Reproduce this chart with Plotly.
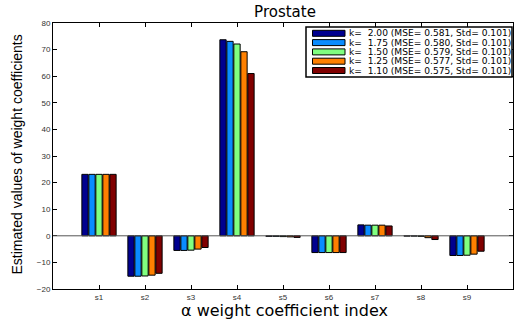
import plotly.graph_objects as go

categories = ["s1", "s2", "s3", "s4", "s5", "s6", "s7", "s8", "s9"]
k_values = ["2.00", "1.75", "1.50", "1.25", "1.10"]
mse_values = ["0.581", "0.580", "0.579", "0.577", "0.575"]
std_values = ["0.101", "0.101", "0.101", "0.101", "0.101"]

vals_k200 = [23.1, -15.2, -5.5, 73.7, -0.2, -6.3, 4.1, -0.1, -7.4]
vals_k175 = [23.1, -15.2, -5.5, 73.1, -0.2, -6.3, 4.0, -0.1, -7.4]
vals_k150 = [23.1, -15.1, -5.4, 72.1, -0.3, -6.3, 4.0, -0.2, -7.3]
vals_k125 = [23.1, -14.8, -5.0, 69.2, -0.4, -6.3, 4.0, -0.7, -6.9]
vals_k110 = [23.1, -14.1, -4.4, 61.0, -0.6, -6.3, 3.7, -1.4, -5.8]
series = [vals_k200, vals_k175, vals_k150, vals_k125, vals_k110]

colors = ["#00008F", "#0A8CFF", "#80FF80", "#FF8000", "#800000"]

y_ticks = [-20, -10, 0, 10, 20, 30, 40, 50, 60, 70, 80]
y_ticklabels = ["\u221220", "\u221210", "0", "10", "20", "30", "40", "50", "60", "70", "80"]

font_family = "Liberation Sans, Arial, Helvetica, sans-serif"
wide_font = "DejaVu Sans, Liberation Sans, sans-serif"

# plot area in pixels (for legend placement in paper coords)
PL, PR, PT, PB = 53, 513, 23, 289
def px(x):
    return (x - PL) / (PR - PL)
def py(y):
    return (PB - y) / (PB - PT)

fig = go.Figure()
xpos = list(range(1, len(categories) + 1))
names = []
for i, vals in enumerate(series):
    name = f"k=\u00a0\u00a0{k_values[i]} (MSE=\u00a0{mse_values[i]}, Std=\u00a0{std_values[i]})"
    names.append(name)
    fig.add_trace(go.Bar(
        x=xpos, y=vals, name=name,
        marker=dict(color=colors[i], line=dict(color="#000000", width=1)),
    ))

fig.add_shape(type="line", xref="x", yref="y", x0=0, x1=10, y0=0, y1=0,
              line=dict(color="#555555", width=1), layer="above")

# custom legend (box, swatches, labels)
fig.add_shape(type="rect", xref="paper", yref="paper",
              x0=px(306), x1=px(512), y0=py(77), y1=py(27),
              line=dict(color="black", width=1.5), fillcolor="white", layer="above")
row_y = [33.3, 42.6, 51.9, 61.2, 70.5]
for i, name in enumerate(names):
    fig.add_shape(type="rect", xref="paper", yref="paper",
                  x0=px(312.5), x1=px(345), y0=py(row_y[i] + 3), y1=py(row_y[i] - 3),
                  line=dict(color="black", width=1), fillcolor=colors[i], layer="above")
    fig.add_annotation(xref="paper", yref="paper", x=px(346.5), y=py(row_y[i]),
                       xanchor="left", yanchor="middle", showarrow=False,
                       text=name, font=dict(family=wide_font, size=9.1, color="black"))

# axis titles as annotations
fig.add_annotation(xref="paper", yref="paper", x=px(284), y=py(310.5),
                   xanchor="center", yanchor="middle", showarrow=False, borderpad=0,
                   text="\u03b1 weight coefficient index",
                   font=dict(family=wide_font, size=16, color="black"))
fig.add_annotation(xref="paper", yref="paper", x=px(16), y=py(154.5),
                   xanchor="center", yanchor="middle", showarrow=False, textangle=-90,
                   text="Estimated values of weight coefficients",
                   font=dict(family=font_family, size=14, color="black"))

fig.update_layout(
    width=515, height=321,
    margin=dict(l=PL, r=515 - PR, t=PT, b=321 - PB),
    paper_bgcolor="white", plot_bgcolor="white",
    barmode="group", bargap=0.24, bargroupgap=0.1,
    title=dict(text="Prostate", x=px(285), xref="paper", xanchor="center",
               y=1 - 12 / 321, yanchor="middle",
               font=dict(family=wide_font, size=15, color="black")),
    font=dict(family=font_family, color="black"),
    showlegend=False,
    xaxis=dict(range=[0, 10], tickvals=xpos, ticktext=categories,
               ticks="inside", ticklen=4, tickcolor="black",
               showline=True, linecolor="black", linewidth=1, mirror="ticks",
               showgrid=False, zeroline=False,
               tickfont=dict(size=8, color="#333333")),
    yaxis=dict(range=[-20, 80], tickvals=y_ticks, ticktext=y_ticklabels,
               ticks="inside", ticklen=4, tickcolor="black",
               showline=True, linecolor="black", linewidth=1, mirror="ticks",
               showgrid=False, zeroline=False,
               tickfont=dict(size=8, color="#333333")),
)

fig.write_html("out.html")
